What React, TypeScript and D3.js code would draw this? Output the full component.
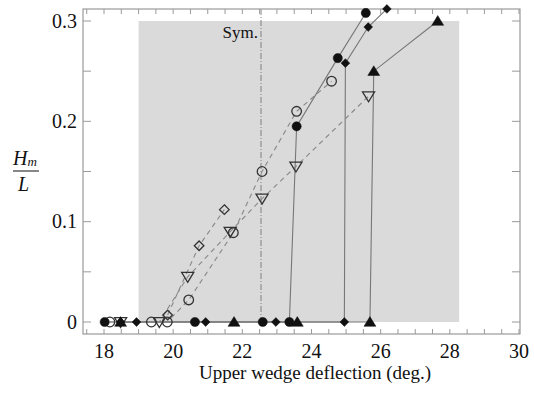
import * as d3 from "d3";

// filled symbols, solid lines
const filledCircles: [number, number][] = [
  [18.02, 0], [20.63, 0], [22.59, 0], [23.36, 0], [23.57, 0.195], [24.76, 0.263], [25.57, 0.308],
];
const filledDiamonds: [number, number][] = [
  [18.48, 0], [18.94, 0], [20.94, 0], [22.97, 0], [24.95, 0], [24.98, 0.258], [25.64, 0.294], [26.18, 0.312],
];
const filledTriangles: [number, number][] = [
  [18.48, 0], [21.76, 0], [23.59, 0], [25.69, 0], [25.8, 0.25], [27.65, 0.3],
];
// open symbols, dashed lines
const openCircles: [number, number][] = [
  [18.17, 0], [19.37, 0], [19.83, 0], [20.45, 0.022], [21.74, 0.089], [22.57, 0.15], [23.57, 0.21], [24.58, 0.24],
];
const openTriangles: [number, number][] = [
  [18.48, 0], [19.6, 0], [20.42, 0.045], [21.65, 0.09], [22.57, 0.123], [23.55, 0.155], [25.65, 0.225],
];
const openDiamonds: [number, number][] = [
  [19.84, 0.007], [20.75, 0.076], [21.48, 0.112],
];

const xTickLabels = [18, 20, 22, 24, 26, 28, 30];
const yTickLabels = [0, 0.1, 0.2, 0.3];
const shaded = { x0: 19.0, x1: 28.27, y0: 0, y1: 0.3 };
const symX = 22.54;

const W = 534;
const H = 395;
const frame = { left: 83, right: 520, top: 9, bottom: 334 };

export default function App() {
  const x = d3.scaleLinear().domain([18, 30]).range([104, 519]);
  const y = d3.scaleLinear().domain([0, 0.3]).range([322, 21]);
  const line = d3.line<[number, number]>().x((d) => x(d[0])).y((d) => y(d[1]));

  const font = "'Liberation Serif', 'Times New Roman', 'DejaVu Serif', serif";
  const axisColor = "#9a9a9a";

  const xMinor = d3.range(17.5, 30.01, 0.5);
  const yMinor = d3.range(0, 0.301, 0.05);

  const sym = {
    circle: (r: number) => d3.symbol(d3.symbolCircle, Math.PI * r * r)(),
    diamond: (s: number) => `M0,${-s}L${s},0L0,${s}L${-s},0Z`,
    triUp: (s: number) => `M0,${-s}L${s * 1.1},${s * 0.8}L${-s * 1.1},${s * 0.8}Z`,
    triDown: (s: number) => `M0,${s}L${s * 1.1},${-s * 0.8}L${-s * 1.1},${-s * 0.8}Z`,
  };

  const markers = (
    data: [number, number][],
    path: string,
    filled: boolean,
    key: string
  ) =>
    data.map((d, i) => (
      <path
        key={key + i}
        d={path}
        transform={`translate(${x(d[0])},${y(d[1])})`}
        fill={filled ? "#111" : "none"}
        stroke={filled ? "#111" : "#333"}
        strokeWidth={filled ? 0.5 : 1.3}
      />
    ));

  const txt = { fontFamily: font, fill: "#111" };

  return (
    <svg
      width={W}
      height={H}
      style={{ position: "absolute", left: 0, top: 0, background: "#fff", fontFamily: font }}
    >
      {/* shaded region */}
      <rect
        x={x(shaded.x0)}
        y={y(shaded.y1)}
        width={x(shaded.x1) - x(shaded.x0)}
        height={y(shaded.y0) - y(shaded.y1)}
        fill="#dadada"
      />

      {/* symmetric line */}
      <line
        x1={x(symX)}
        x2={x(symX)}
        y1={frame.top}
        y2={y(0)}
        stroke="#777"
        strokeWidth={0.9}
        strokeDasharray="6,2,1,2"
      />
      <text x={x(symX) - 3} y={38} textAnchor="end" fontSize={17} style={txt}>
        Sym.
      </text>

      {/* frame */}
      <rect
        x={frame.left}
        y={frame.top}
        width={frame.right - frame.left}
        height={frame.bottom - frame.top}
        fill="none"
        stroke={axisColor}
        strokeWidth={1.2}
      />
      {xMinor.map((v) => (
        <g key={"xt" + v}>
          <line x1={x(v)} x2={x(v)} y1={frame.bottom} y2={frame.bottom - 5} stroke={axisColor} />
          <line x1={x(v)} x2={x(v)} y1={frame.top} y2={frame.top + 5} stroke={axisColor} />
        </g>
      ))}
      {yMinor.map((v) => (
        <g key={"yt" + v}>
          <line x1={frame.left} x2={frame.left + 8} y1={y(v)} y2={y(v)} stroke={axisColor} />
          <line x1={frame.right} x2={frame.right - 8} y1={y(v)} y2={y(v)} stroke={axisColor} />
        </g>
      ))}

      {/* series lines */}
      {[filledCircles, filledDiamonds, filledTriangles].map((s, i) => (
        <path key={"sl" + i} d={line(s) ?? ""} fill="none" stroke="#777" strokeWidth={1.1} />
      ))}
      {[openCircles, openTriangles, openDiamonds].map((s, i) => (
        <path
          key={"dl" + i}
          d={line(s) ?? ""}
          fill="none"
          stroke="#888"
          strokeWidth={1.1}
          strokeDasharray="5,4"
        />
      ))}

      {/* markers */}
      {markers(openCircles, sym.circle(4.8) ?? "", false, "oc")}
      {markers(openTriangles, sym.triDown(5.5), false, "ot")}
      {markers(openDiamonds, sym.diamond(4.8), false, "od")}
      {markers(filledCircles, sym.circle(4.6) ?? "", true, "fc")}
      {markers(filledDiamonds, sym.diamond(4.4), true, "fd")}
      {markers(filledTriangles, sym.triUp(5.4), true, "ft")}

      {/* tick labels */}
      {xTickLabels.map((v) => (
        <text key={"xl" + v} x={x(v)} y={358} textAnchor="middle" fontSize={20} style={txt}>
          {v}
        </text>
      ))}
      {yTickLabels.map((v) => (
        <text
          key={"yl" + v}
          x={77}
          y={y(v)}
          dy="0.34em"
          textAnchor="end"
          fontSize={20}
          style={txt}
        >
          {v === 0 ? "0" : v.toFixed(1)}
        </text>
      ))}

      {/* axis titles */}
      <text x={315} y={379} textAnchor="middle" fontSize={19} style={txt}>
        Upper wedge deflection (deg.)
      </text>
      <g>
        <text x={13} y={165} fontSize={20} fontStyle="italic" style={txt}>
          H<tspan fontSize={13} dy={1}>m</tspan>
        </text>
        <line x1={13} x2={39} y1={171} y2={171} stroke="#111" strokeWidth={1} />
        <text x={18} y={191} fontSize={20} fontStyle="italic" style={txt}>
          L
        </text>
      </g>
    </svg>
  );
}
